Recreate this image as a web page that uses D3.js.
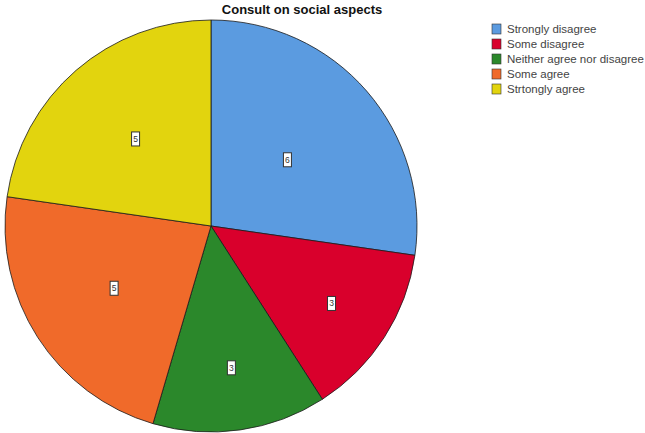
<!DOCTYPE html>
<html>
<head>
<meta charset="utf-8">
<script src="https://cdn.jsdelivr.net/npm/d3@7"></script>
<style>
  html, body { margin: 0; padding: 0; background: #fff; }
  svg { display: block; }
</style>
</head>
<body>
<svg id="chart" width="645" height="433"></svg>
<script>
const title = "Consult on social aspects";
const categories = ["Strongly disagree", "Some disagree", "Neither agree nor disagree", "Some agree", "Strtongly agree"];
const counts = [6, 3, 3, 5, 5];
const colors = ["#5b9be0", "#d9002c", "#2b882b", "#f06a2a", "#e2d40e"];

const svg = d3.select("#chart");
const cx = 211, cy = 226, R = 206;

svg.append("text")
  .attr("x", 302).attr("y", 14)
  .attr("text-anchor", "middle")
  .attr("font-family", "Liberation Sans, Arial, sans-serif")
  .attr("font-weight", "bold")
  .attr("font-size", 13)
  .attr("fill", "#111")
  .text(title);

const data = categories.map((c, i) => ({ cat: c, value: counts[i], color: colors[i] }));
const pie = d3.pie().sort(null).value(d => d.value).startAngle(0).endAngle(2 * Math.PI);
const arcs = pie(data);
const arc = d3.arc().innerRadius(0).outerRadius(R);

const g = svg.append("g").attr("transform", `translate(${cx},${cy})`);
g.selectAll("path.slice").data(arcs).enter().append("path")
  .attr("class", "slice")
  .attr("d", arc)
  .attr("fill", d => d.data.color)
  .attr("stroke", "#1a1a1a")
  .attr("stroke-width", 0.8);

const total = d3.sum(counts);
const labels = g.selectAll("g.lbl").data(arcs).enter().append("g").attr("class", "lbl")
  .attr("transform", d => {
    const mid = (d.startAngle + d.endAngle) / 2;
    const frac = d.data.value / total;
    const lr = R * (0.9 - 1.5 * frac);
    return `translate(${lr * Math.sin(mid)},${-lr * Math.cos(mid)})`;
  });
labels.append("rect")
  .attr("x", -4).attr("y", -7).attr("width", 8).attr("height", 14)
  .attr("fill", "#fff").attr("stroke", "#333").attr("stroke-width", 1);
labels.append("text")
  .attr("text-anchor", "middle").attr("dy", "0.35em")
  .attr("font-family", "Liberation Sans, Arial, sans-serif")
  .attr("font-size", 8.5).attr("fill", "#333")
  .text(d => d.data.value);

const leg = svg.append("g").attr("transform", "translate(492,24)");
const rows = leg.selectAll("g").data(data).enter().append("g")
  .attr("transform", (d, i) => `translate(0,${i * 15})`);
rows.append("rect")
  .attr("x", 0).attr("y", 0).attr("width", 9).attr("height", 10)
  .attr("fill", d => d.color).attr("stroke", "#333").attr("stroke-width", 0.6);
rows.append("text")
  .attr("x", 15).attr("y", 5).attr("dy", "0.35em")
  .attr("font-family", "Liberation Sans, Arial, sans-serif")
  .attr("font-size", 11.5).attr("fill", "#444")
  .text(d => d.cat);
</script>
</body>
</html>
